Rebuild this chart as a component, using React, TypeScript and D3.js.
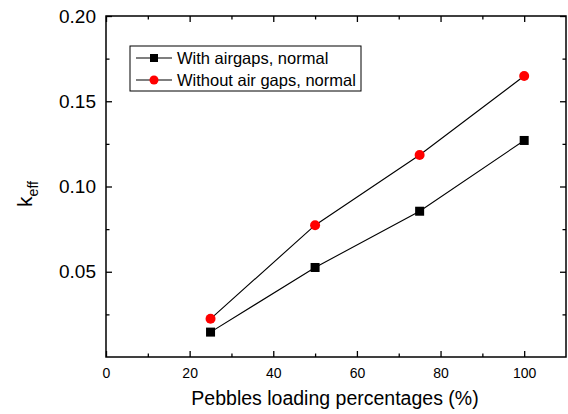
import { useEffect, useRef } from 'react';
import * as d3 from 'd3';

// Data
const loading = [25, 50, 75, 100];
const withAirgaps = [0.0146, 0.0525, 0.0855, 0.127];
const withoutAirgaps = [0.0224, 0.0773, 0.1185, 0.1648];
const seriesNames = ['With airgaps, normal', 'Without air gaps, normal'];
const xTicks = [0, 20, 40, 60, 80, 100];
const yTicks = [0.05, 0.1, 0.15, 0.2];

const W = 568;
const H = 414;
const FONT = '"Liberation Sans", Arial, sans-serif';

export default function App() {
  const svgRef = useRef<SVGSVGElement>(null);

  useEffect(() => {
    if (!svgRef.current) return;
    const svg = d3.select(svgRef.current);
    svg.selectAll('*').remove();

    const margin = { top: 16, right: 2, bottom: 57, left: 106 };
    const innerWidth = W - margin.left - margin.right;
    const innerHeight = H - margin.top - margin.bottom;

    const g = svg
      .append('g')
      .attr('transform', `translate(${margin.left},${margin.top})`);

    const x = d3.scaleLinear().domain([0, 110]).range([0, innerWidth]);
    const y = d3.scaleLinear().domain([0, 0.2]).range([innerHeight, 0]);

    const xMinor = d3.range(10, 110, 20);
    const yMinor = d3.range(0.025, 0.2, 0.05);

    // Frame
    g.append('rect')
      .attr('width', innerWidth)
      .attr('height', innerHeight)
      .attr('fill', 'none')
      .attr('stroke', '#000')
      .attr('stroke-width', 1.5);

    const tickStyle = (sel: d3.Selection<SVGGElement, unknown, null, undefined>) => {
      sel.select('.domain').remove();
      sel.selectAll('.tick line').attr('stroke', '#000').attr('stroke-width', 1.3);
    };

    // Bottom axis (inward ticks)
    const bottom = g
      .append('g')
      .attr('transform', `translate(0,${innerHeight})`)
      .call(d3.axisBottom(x).tickValues(xTicks).tickSizeInner(-6).tickSizeOuter(0).tickPadding(11).tickFormat(d3.format('d')));
    tickStyle(bottom);
    bottom.selectAll('text').attr('font-family', FONT).attr('font-size', 14).attr('fill', '#000');
    g.append('g')
      .attr('transform', `translate(0,${innerHeight})`)
      .call(d3.axisBottom(x).tickValues(xMinor).tickSizeInner(-3.5).tickSizeOuter(0).tickFormat(() => ''))
      .call(tickStyle);

    // Top axis
    g.append('g')
      .call(d3.axisTop(x).tickValues(xTicks).tickSizeInner(-6).tickSizeOuter(0).tickFormat(() => ''))
      .call(tickStyle);
    g.append('g')
      .call(d3.axisTop(x).tickValues(xMinor).tickSizeInner(-3.5).tickSizeOuter(0).tickFormat(() => ''))
      .call(tickStyle);

    // Left axis
    const left = g
      .append('g')
      .call(d3.axisLeft(y).tickValues(yTicks).tickSizeInner(-6).tickSizeOuter(0).tickPadding(10).tickFormat(d3.format('.2f')));
    tickStyle(left);
    left.selectAll('text').attr('font-family', FONT).attr('font-size', 19).attr('fill', '#000');
    g.append('g')
      .call(d3.axisLeft(y).tickValues(yMinor).tickSizeInner(-3.5).tickSizeOuter(0).tickFormat(() => ''))
      .call(tickStyle);

    // Right axis
    g.append('g')
      .attr('transform', `translate(${innerWidth},0)`)
      .call(d3.axisRight(y).tickValues(yTicks).tickSizeInner(-6).tickSizeOuter(0).tickFormat(() => ''))
      .call(tickStyle);
    g.append('g')
      .attr('transform', `translate(${innerWidth},0)`)
      .call(d3.axisRight(y).tickValues(yMinor).tickSizeInner(-3.5).tickSizeOuter(0).tickFormat(() => ''))
      .call(tickStyle);

    // Lines
    const line = d3
      .line<number>()
      .x((_, i) => x(loading[i]))
      .y((d) => y(d));

    [withAirgaps, withoutAirgaps].forEach((vals) => {
      g.append('path')
        .attr('d', line(vals))
        .attr('fill', 'none')
        .attr('stroke', '#000')
        .attr('stroke-width', 1.1);
    });

    // Markers
    g.selectAll('rect.sq')
      .data(withAirgaps)
      .join('rect')
      .attr('class', 'sq')
      .attr('x', (_, i) => x(loading[i]) - 4.5)
      .attr('y', (d) => y(d) - 4.5)
      .attr('width', 9)
      .attr('height', 9)
      .attr('fill', '#000');

    g.selectAll('circle.dot')
      .data(withoutAirgaps)
      .join('circle')
      .attr('class', 'dot')
      .attr('cx', (_, i) => x(loading[i]))
      .attr('cy', (d) => y(d))
      .attr('r', 5)
      .attr('fill', '#ff0000');

    // Legend
    const lg = svg.append('g').attr('transform', 'translate(130,46)');
    lg.append('rect')
      .attr('width', 231)
      .attr('height', 45)
      .attr('fill', '#fff')
      .attr('stroke', '#000')
      .attr('stroke-width', 1);
    seriesNames.forEach((name, i) => {
      const cy = 12 + i * 22;
      lg.append('line')
        .attr('x1', 6)
        .attr('x2', 42)
        .attr('y1', cy)
        .attr('y2', cy)
        .attr('stroke', '#000')
        .attr('stroke-width', 1.1);
      if (i === 0) {
        lg.append('rect').attr('x', 20).attr('y', cy - 4).attr('width', 8).attr('height', 8).attr('fill', '#000');
      } else {
        lg.append('circle').attr('cx', 24).attr('cy', cy).attr('r', 4.5).attr('fill', '#ff0000');
      }
      lg.append('text')
        .attr('x', 47)
        .attr('y', cy)
        .attr('dy', '0.35em')
        .attr('font-family', FONT)
        .attr('font-size', 16.5)
        .attr('fill', '#000')
        .text(name);
    });

    // Axis titles
    svg
      .append('text')
      .attr('x', margin.left + x(55) - 1)
      .attr('y', 405)
      .attr('text-anchor', 'middle')
      .attr('font-family', FONT)
      .attr('font-size', 19.5)
      .attr('fill', '#000')
      .text('Pebbles loading percentages (%)');

    const yt = svg
      .append('text')
      .attr('transform', `translate(32,194) rotate(-90)`)
      .attr('text-anchor', 'middle')
      .attr('font-family', FONT)
      .attr('font-size', 21)
      .attr('fill', '#000');
    yt.append('tspan').text('k');
    yt.append('tspan').attr('font-size', 14).attr('dy', 6).text('eff');
  }, []);

  return <svg ref={svgRef} width={W} height={H} style={{ display: 'block', position: 'absolute', left: 0, top: 0, background: '#fff' }} />;
}
